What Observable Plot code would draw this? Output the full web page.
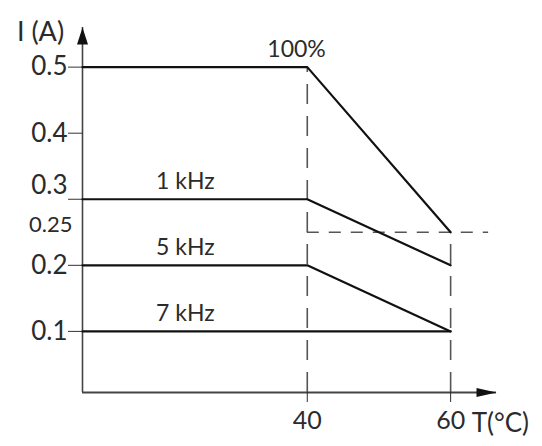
<!DOCTYPE html>
<html>
<head>
<meta charset="utf-8">
<script src="https://cdn.jsdelivr.net/npm/d3@7"></script>
<script src="https://cdn.jsdelivr.net/npm/@observablehq/plot@0.6"></script>
<style>
  html, body { margin: 0; padding: 0; background: #fff; }
  #chart svg { display: block; }
</style>
</head>
<body>
<div id="chart"></div>
<script>
// ---- data ----
const temps = [40, 60];                 // breakpoints, °C
const seriesNames = ["100%", "1 kHz", "5 kHz", "7 kHz"];
const currentAt40 = [0.5, 0.3, 0.2, 0.1];
const currentAt60 = [0.25, 0.2, 0.1, 0.1];
const labelTemp = [38.5, 23, 23, 23];
const yTickMarks = [0.1, 0.2, 0.3, 0.4, 0.5];
const yTickLabels = [0.1, 0.2, 0.4, 0.5];
const yTickShifted = [0.3];
const yTickExtra = [0.25];
const xTicks = [40, 60];
const guideLevel = 0.25;
const guideEnd = 65.3;

// ---- scales ----
const xDomain = [8.64, 66.4];
const yDomain = [0.0075, 0.56];

const lineRows = [];
seriesNames.forEach((s, i) => {
  lineRows.push({s, t: xDomain[0], i: currentAt40[i]});
  lineRows.push({s, t: temps[0], i: currentAt40[i]});
  lineRows.push({s, t: temps[1], i: currentAt60[i]});
});
const labelRows = seriesNames.map((s, i) => ({s, t: labelTemp[i], i: currentAt40[i]}));

const arrowUp = { draw(ctx) { ctx.moveTo(0, 0); ctx.lineTo(-5.5, 17); ctx.lineTo(5.5, 17); ctx.closePath(); } };
const arrowRight = { draw(ctx) { ctx.moveTo(0, 0); ctx.lineTo(-4.5, 20); ctx.lineTo(4.5, 20); ctx.closePath(); } };

const font = "Lato, 'Open Sans', sans-serif";
const ink = "#2b2b2b";
const fmt = d3.format(".1f");

const chart = Plot.plot({
  width: 542,
  height: 446,
  marginLeft: 82,
  marginRight: 46,
  marginTop: 27,
  marginBottom: 54,
  style: {fontFamily: font, background: "#fff", overflow: "visible"},
  x: {domain: xDomain},
  y: {domain: yDomain},
  marks: [
    // dashed guides
    Plot.ruleX([temps[0]], {y1: yDomain[0], y2: currentAt40[0], stroke: "#555", strokeWidth: 1.6, strokeDasharray: "20,12"}),
    Plot.ruleX([temps[1]], {y1: yDomain[0], y2: guideLevel, stroke: "#555", strokeWidth: 1.6, strokeDasharray: "20,12"}),
    Plot.ruleY([guideLevel], {x1: temps[0], x2: guideEnd, stroke: "#555", strokeWidth: 1.6, strokeDasharray: "12,10"}),
    // frame axes
    Plot.ruleY([yDomain[0]], {x1: xDomain[0], x2: xDomain[1], stroke: "#444", strokeWidth: 2}),
    Plot.ruleX([xDomain[0]], {y1: yDomain[0], y2: yDomain[1], stroke: "#444", strokeWidth: 1.6}),
    Plot.dot([{t: xDomain[0], i: yDomain[1]}], {x: "t", y: "i", symbol: arrowUp, fill: "#111", stroke: null}),
    Plot.dot([{t: xDomain[1], i: yDomain[0]}], {x: "t", y: "i", symbol: arrowRight, rotate: 90, fill: "#111", stroke: null}),
    // axes
    Plot.axisY({ticks: yTickMarks, tickSize: 14, tickFormat: () => "", color: "#333", label: null}),
    Plot.axisY({ticks: yTickLabels, tickSize: 0, tickPadding: 15, tickFormat: fmt, fontSize: 26, color: ink, label: null}),
    Plot.axisY({ticks: yTickShifted, tickSize: 0, tickPadding: 15, tickFormat: fmt, fontSize: 26, color: ink, label: null, dy: -14}),
    Plot.axisY({ticks: yTickExtra, tickSize: 0, tickPadding: 10, tickFormat: d3.format(".2f"), fontSize: 22, color: ink, label: null, dy: -7}),
    Plot.axisX({ticks: xTicks, tickSize: 10, tickPadding: 9, fontSize: 25, color: ink, label: null}),
    // curves
    Plot.line(lineRows, {x: "t", y: "i", z: "s", stroke: "#111", strokeWidth: 2.2}),
    Plot.text(labelRows, {x: "t", y: "i", text: "s", dy: -18, fontSize: 23, fill: ink}),
    // axis titles
    Plot.text(["I (A)"], {x: xDomain[0], y: yDomain[1], dx: -42, dy: 5, fontSize: 27, fill: ink}),
    Plot.text(["T(°C)"], {x: temps[1], y: yDomain[0], dx: 21, dy: 31, textAnchor: "start", fontSize: 26, fill: ink})
  ]
});
document.getElementById("chart").appendChild(chart);
</script>
</body>
</html>
